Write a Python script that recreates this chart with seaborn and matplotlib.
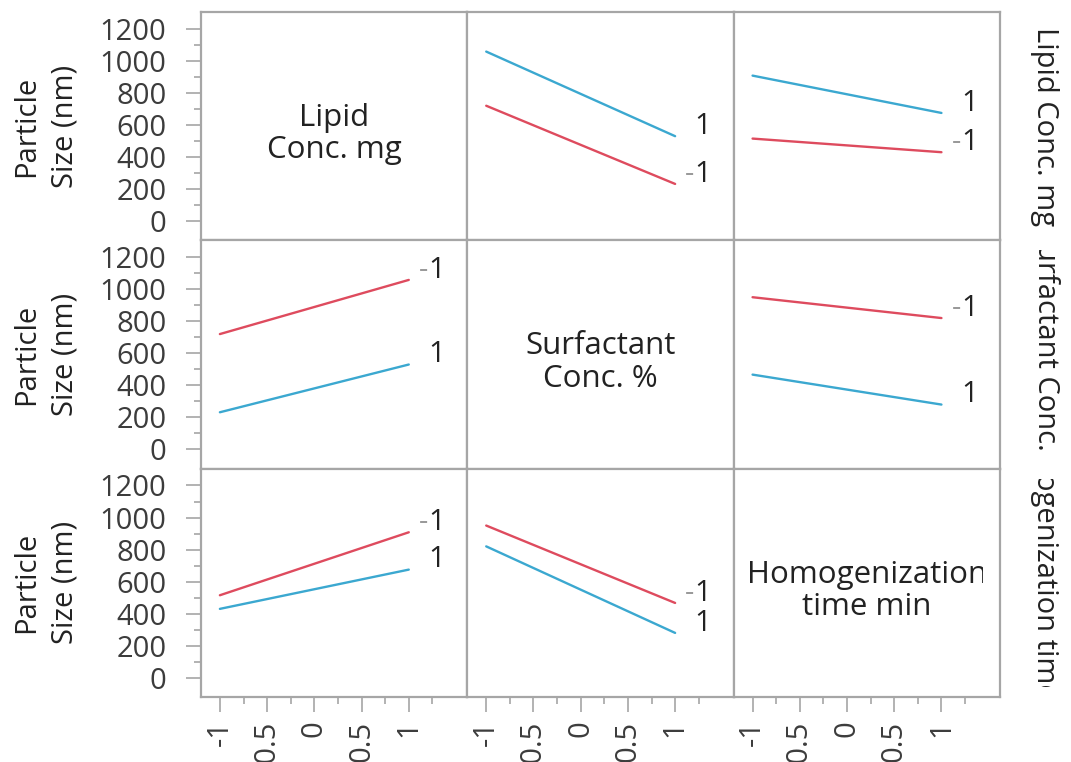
import matplotlib
matplotlib.use("Agg")
import matplotlib.pyplot as plt
import numpy as np
import pandas as pd
import seaborn as sns
from matplotlib.ticker import FixedLocator
from matplotlib.transforms import Bbox, TransformedBbox

# ---------------- data ----------------
factors = ["Lipid Conc. mg", "Surfactant Conc. %", "Homogenization time min"]
diag_labels = ["Lipid\nConc. mg", "Surfactant\nConc. %", "Homogenization\ntime min"]
levels = [-1, 1]
# predicted Particle Size (nm) for factor pairs (a, b): [a-1 b-1, a-1 b+1, a+1 b-1, a+1 b+1]
lipid_surf = [720, 232, 1058, 530]
lipid_homog = [515, 430, 908, 675]
surf_homog = [950, 820, 467, 280]
y_ticks = [0, 200, 400, 600, 800, 1000, 1200]
y_minor = [100, 300, 500, 700, 900, 1100]
x_ticks = [-1, -0.5, 0, 0.5, 1]
x_tick_labels = ["-1", "-0.5", "0", "0.5", "1"]
x_minor = [-0.75, -0.25, 0.25, 0.75, 1.25]
y_label = "Particle\nSize (nm)"

pair_tables = {(0, 1): lipid_surf, (0, 2): lipid_homog, (1, 2): surf_homog}

records = []
for r in range(3):
    for c in range(3):
        if r == c:
            continue
        a, b = min(r, c), max(r, c)
        tab = np.array(pair_tables[(a, b)]).reshape(2, 2)
        for hi, hv in enumerate(levels):      # hue = row factor
            for xi, xv in enumerate(levels):  # x = column factor
                val = tab[hi, xi] if r < c else tab[xi, hi]
                records.append(dict(row=r, col=c, x=xv, hue=hv, y=val))
df = pd.DataFrame(records)

# ---------------- style ----------------
sns.set_theme(style="white")
plt.rcParams["font.family"] = ["Open Sans", "DejaVu Sans"]
RED = "#DE4B5E"
BLUE = "#3BA8D0"
GRID = "#A6A6A6"
TXT = "#222222"
TICK = "#3c3c3c"
FS = 21
FS_DIAG = 22.5
palette = {-1: RED, 1: BLUE}

W, H = 1071, 762
fig = plt.figure(figsize=(W / 100, H / 100), dpi=100)
L, R, T, B = 201 / W, 1000 / W, 1 - 12 / H, 1 - 697 / H
axes = fig.subplots(3, 3, gridspec_kw=dict(left=L, right=R, top=T, bottom=B,
                                            hspace=0, wspace=0))

for r in range(3):
    for c in range(3):
        ax = axes[r, c]
        ax.set_xlim(-1.2, 1.62)
        ax.set_ylim(-120, 1305)
        for s in ax.spines.values():
            s.set_color(GRID)
            s.set_linewidth(1.6)
        if r == c:
            t = ax.text(0.5, 0.465, diag_labels[r], transform=ax.transAxes,
                        ha="center", va="center", fontsize=FS_DIAG, color=TXT,
                        linespacing=1.1)
            t.set_clip_box(TransformedBbox(Bbox([[0.04, 0.0], [0.936, 1.0]]),
                                           ax.transAxes))
            t.set_clip_on(True)
        else:
            sub = df[(df.row == r) & (df.col == c)]
            sns.lineplot(data=sub, x="x", y="y", hue="hue", palette=palette,
                         ax=ax, legend=False, linewidth=1.7)
            ends = sub[sub.x == 1]
            for _, e in ends.iterrows():
                ax.annotate("1", xy=(1, e.y), xytext=(26, 7),
                            textcoords="offset points", ha="right", va="center",
                            fontsize=FS, color=TXT, annotation_clip=False)
                if e.hue == -1:
                    ax.annotate("-", xy=(1, e.y), xytext=(14, 7),
                                textcoords="offset points", ha="right",
                                va="center", fontsize=FS, color="#9a9a9a",
                                annotation_clip=False)
        ax.set_xlabel("")
        ax.set_ylabel("")
        if c == 0:
            ax.yaxis.set_major_locator(FixedLocator(y_ticks))
            ax.yaxis.set_minor_locator(FixedLocator(y_minor))
            ax.set_yticklabels([str(v) for v in y_ticks])
            ax.tick_params(axis="y", which="major", left=True, length=11,
                           width=1.2, color=GRID, pad=14, labelsize=FS,
                           labelcolor=TICK)
            ax.tick_params(axis="y", which="minor", left=True, length=5,
                           width=1.2, color=GRID)
        else:
            ax.set_yticks([])
        if r == 2:
            ax.xaxis.set_major_locator(FixedLocator(x_ticks))
            ax.xaxis.set_minor_locator(FixedLocator(x_minor))
            ax.set_xticklabels(x_tick_labels, rotation=90, va="top")
            ax.tick_params(axis="x", which="major", bottom=True, length=11,
                           width=1.2, color=GRID, pad=6, labelsize=FS,
                           labelcolor=TICK)
            ax.tick_params(axis="x", which="minor", bottom=True, length=5,
                           width=1.2, color=GRID)
        else:
            ax.set_xticks([])

# row labels (left) and right-hand factor names, clipped to the row band
row_h = (T - B) / 3
inset = 10 / H
for r in range(3):
    y0 = T - (r + 1) * row_h
    fig.text(46 / W, y0 + row_h / 2, y_label, rotation=90, ha="center",
             va="center", fontsize=FS, color=TXT, linespacing=1.45)
    t = fig.text(1045 / W, y0 + row_h / 2, factors[r], rotation=270,
                 ha="center", va="center", fontsize=FS, color=TXT)
    t.set_clip_box(TransformedBbox(Bbox([[R, y0 + inset],
                                         [1.0, y0 + row_h - inset]]),
                                   fig.transFigure))
    t.set_clip_on(True)

fig.savefig("out.png", dpi=100)
